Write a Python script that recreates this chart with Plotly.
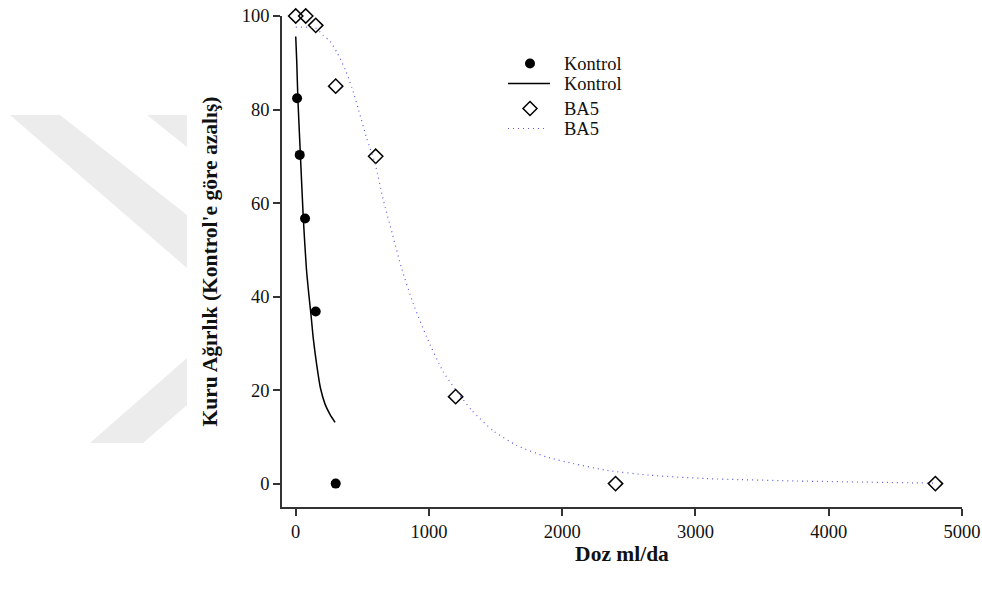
import plotly.graph_objects as go

# ---- data ----
kontrol_dose = [10, 30, 70, 150, 300]
kontrol_val = [82.4, 70.3, 56.7, 36.8, 0.0]

kontrol_fit_dose = [0, 8, 16, 35, 57, 80, 100, 115, 132, 157, 185, 220, 257, 295]
kontrol_fit_val = [95.6, 90.0, 82.4, 70.3, 56.7, 46.0, 40.0, 36.0, 31.0, 25.5, 20.5, 17.0, 14.8, 13.1]

ba5_dose = [0, 75, 150, 300, 600, 1200, 2400, 4800]
ba5_val = [100, 100, 98, 85, 70, 18.6, 0, 0]

ba5_fit_dose = [0, 150, 207, 257, 312, 372, 420, 472, 532, 595, 657, 727, 795, 882,
                982, 1107, 1195, 1320, 1482, 1657, 1882, 2082, 2332, 2657, 3082,
                3332, 3757, 4800]
ba5_fit_val = [97.6, 97.4, 95.8, 94.6, 92.1, 88.5, 84.8, 79.9, 73.9, 68.5, 60.7, 53.2,
               46.0, 38.5, 31.4, 23.9, 20.3, 15.7, 11.3, 8.2, 5.7, 4.3, 2.85, 1.8,
               1.07, 0.86, 0.56, 0.1]

legend_labels = ["Kontrol", "Kontrol", "BA5", "BA5"]

x_ticks = [0, 1000, 2000, 3000, 4000, 5000]
y_ticks = [0, 20, 40, 60, 80, 100]

x_title = "Doz ml/da"
y_title = "Kuru Ağırlık (Kontrol'e göre azalış)"

# ---- layout geometry ----
W, H = 982, 592
ML, MR, MT, MB = 282, 20, 16, 85
PW, PH = W - ML - MR, H - MT - MB

SERIF = "Liberation Serif"
DOT_COLOR = "#5a5ae6"

fig = go.Figure()

fig.add_trace(go.Scatter(
    x=kontrol_dose, y=kontrol_val, mode="markers", name=legend_labels[0],
    marker=dict(symbol="circle", size=10, color="black"),
    cliponaxis=False, showlegend=False))
fig.add_trace(go.Scatter(
    x=kontrol_fit_dose, y=kontrol_fit_val, mode="lines", name=legend_labels[1],
    line=dict(color="black", width=1.5, shape="spline", smoothing=0.6),
    showlegend=False))
fig.add_trace(go.Scatter(
    x=ba5_dose, y=ba5_val, mode="markers", name=legend_labels[2],
    marker=dict(symbol="diamond-open", size=11, color="black",
                line=dict(color="black", width=1.5)),
    cliponaxis=False, showlegend=False))
fig.add_trace(go.Scatter(
    x=ba5_fit_dose, y=ba5_fit_val, mode="lines", name=legend_labels[3],
    line=dict(color=DOT_COLOR, width=1.2, dash="1px,4px", shape="spline", smoothing=0.6),
    showlegend=False))


def px(xp, yp):
    return (xp - ML) / PW, 1 - (yp - MT) / PH


def poly(points, fill, line=None):
    pts = [px(a, b) for a, b in points]
    d = "M " + " L ".join(f"{a:.5f},{b:.5f}" for a, b in pts) + " Z"
    return dict(type="path", xref="paper", yref="paper", path=d,
                fillcolor=fill, line=line or dict(width=0))


# watermark bands
shapes = [
    dict(poly([(10, 115), (60, 115), (187, 215), (187, 268)], "#ececec"), layer="below"),
    dict(poly([(147, 115), (187, 115), (187, 147)], "#ececec"), layer="below"),
    dict(poly([(90, 443), (143, 443), (187, 405), (187, 358)], "#ececec"), layer="below"),
]

# ---- hand-made legend (matches the reference's compact spacing) ----
row_y = [63.5, 83.5, 108.5, 128.5]
sym_x, line_x0, line_x1, text_x = 530, 508, 550, 562
annotations = []
for lab, ry in zip(legend_labels, row_y):
    ax_, ay_ = px(text_x, ry)
    annotations.append(dict(x=ax_, y=ay_, xref="paper", yref="paper", text=lab,
                            showarrow=False, xanchor="left", yanchor="middle",
                            font=dict(family=SERIF, size=18.5, color="#111111")))
# circle symbol
cx0, cy0 = px(sym_x - 5, row_y[0] - 5)
cx1, cy1 = px(sym_x + 5, row_y[0] + 5)
shapes.append(dict(type="circle", xref="paper", yref="paper", x0=cx0, y0=cy0, x1=cx1, y1=cy1,
                   fillcolor="black", line=dict(color="black", width=0)))
# solid line symbol
lx0, ly = px(line_x0, row_y[1])
lx1, _ = px(line_x1, row_y[1])
shapes.append(dict(type="line", xref="paper", yref="paper", x0=lx0, y0=ly, x1=lx1, y1=ly,
                   line=dict(color="black", width=1.5)))
# diamond symbol
r = 7
shapes.append(poly([(sym_x, row_y[2] - r), (sym_x + r, row_y[2]), (sym_x, row_y[2] + r),
                    (sym_x - r, row_y[2])], "white", dict(color="black", width=1.5)))
# dotted line symbol
lx0, ly = px(line_x0, row_y[3])
lx1, _ = px(line_x1 - 2, row_y[3])
shapes.append(dict(type="line", xref="paper", yref="paper", x0=lx0, y0=ly, x1=lx1, y1=ly,
                   line=dict(color=DOT_COLOR, width=1.2, dash="1px,4px")))

axis_common = dict(
    showline=True, linecolor="#333333", linewidth=1.5,
    ticks="outside", ticklen=7, tickwidth=1.5, tickcolor="#333333",
    showgrid=False, zeroline=False, automargin=False,
    tickfont=dict(family=SERIF, size=18.5, color="#111111"),
)

fig.update_layout(
    template="none",
    width=W, height=H,
    margin=dict(l=ML, r=MR, t=MT, b=MB, autoexpand=False),
    paper_bgcolor="white", plot_bgcolor="white",
    shapes=shapes, annotations=annotations,
    showlegend=False,
    xaxis=dict(range=[-103, 5000], tickvals=x_ticks,
               title=dict(text=f"<b>{x_title}</b>", standoff=3,
                          font=dict(family=SERIF, size=21.5, color="#111111")),
               **axis_common),
    yaxis=dict(range=[-5, 100], tickvals=y_ticks,
               title=dict(text=f"<b>{y_title}</b>", standoff=18,
                          font=dict(family=SERIF, size=21.5, color="#111111")),
               **axis_common),
)

fig.write_html("out.html")
